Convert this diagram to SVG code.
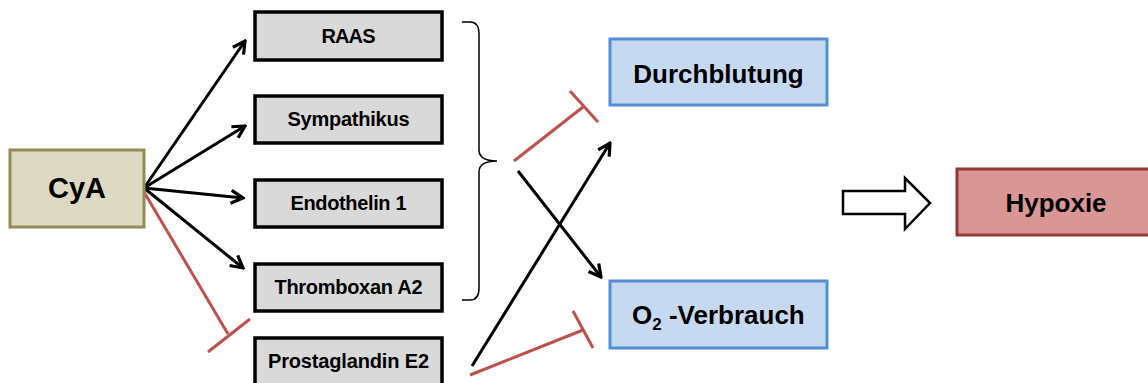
<svg xmlns="http://www.w3.org/2000/svg" width="1148" height="383" viewBox="0 0 1148 383">
  <defs>
    <style>
      text { font-family: "Liberation Sans", Arial, sans-serif; font-weight: bold; fill: #000; }
      .factor rect { fill: #d9d9d9; stroke: #000; stroke-width: 3.5; }
      .factor text { font-size: 20px; text-anchor: middle; }
      .target rect { fill: #c6d9f1; stroke: #558ed5; stroke-width: 3; }
      .target text { font-size: 26px; }
      .act { fill: none; stroke: #000; stroke-width: 3; marker-end: url(#open-arrow); }
      .inh { fill: none; stroke: #c0504d; stroke-width: 3; }
    </style>
    <marker id="open-arrow" markerUnits="userSpaceOnUse" viewBox="0 0 16 16" refX="14" refY="8" markerWidth="16" markerHeight="16" orient="auto">
      <path d="M2,1.5 L14,8 L2,14.5" fill="none" stroke="#000" stroke-width="3.2" stroke-linejoin="miter"/>
    </marker>
  </defs>

  <rect width="1148" height="383" fill="#fff"/>

  <!-- connectors -->
  <g id="connectors">
    <!-- CyA activates -->
    <line class="act" x1="144" y1="188" x2="245" y2="41"/>
    <line class="act" x1="144" y1="188" x2="245" y2="126"/>
    <line class="act" x1="144" y1="188" x2="243" y2="198"/>
    <line class="act" x1="144" y1="188" x2="243" y2="268"/>
    <!-- CyA inhibits prostaglandin E2 -->
    <line class="inh" x1="144" y1="192" x2="228" y2="334"/>
    <line class="inh" x1="208" y1="352" x2="250" y2="319"/>
    <!-- grouping brace -->
    <path d="M462,22 L470,22 Q479,22 479,34 L479,150 Q479,161 497,161 Q479,161 479,172 L479,288 Q479,300 470,300 L462,300" fill="none" stroke="#000" stroke-width="1.5"/>
    <!-- vasoconstrictors: less perfusion, more O2 consumption -->
    <line class="inh" x1="514" y1="161" x2="583" y2="107"/>
    <line class="inh" x1="570" y1="91" x2="598" y2="122"/>
    <line class="act" x1="518" y1="171" x2="601" y2="277"/>
    <!-- prostaglandin E2: more perfusion, less O2 consumption -->
    <line class="act" x1="472" y1="366" x2="610" y2="143"/>
    <line class="inh" x1="470" y1="375" x2="583" y2="330"/>
    <line class="inh" x1="573" y1="311" x2="593" y2="348"/>
    <!-- outline block arrow to hypoxia -->
    <path d="M843,191 L905,191 L905,178 L930,203 L905,229 L905,214 L843,214 Z" fill="#fff" stroke="#000" stroke-width="2.5" stroke-linejoin="miter"/>
  </g>

  <g id="cya">
    <rect x="10" y="150" width="134" height="77" fill="#ddd9c3" stroke="#948a54" stroke-width="3"/>
    <text x="77" y="198" font-size="29" text-anchor="middle">CyA</text>
  </g>

  <g id="raas" class="factor">
    <rect x="255" y="12" width="187" height="48"/>
    <text x="348.5" y="43" textLength="54" lengthAdjust="spacing">RAAS</text>
  </g>
  <g id="sympathikus" class="factor">
    <rect x="255" y="96" width="187" height="47"/>
    <text x="348.5" y="126" textLength="122" lengthAdjust="spacing">Sympathikus</text>
  </g>
  <g id="endothelin" class="factor">
    <rect x="255" y="180" width="187" height="47"/>
    <text x="348.5" y="210" textLength="116" lengthAdjust="spacing">Endothelin 1</text>
  </g>
  <g id="thromboxan" class="factor">
    <rect x="255" y="264" width="187" height="47"/>
    <text x="348.5" y="294" textLength="148" lengthAdjust="spacing">Thromboxan A2</text>
  </g>
  <g id="prostaglandin" class="factor">
    <rect x="255" y="338" width="187" height="48"/>
    <text x="348.5" y="368" textLength="161" lengthAdjust="spacing">Prostaglandin E2</text>
  </g>

  <g id="durchblutung" class="target">
    <rect x="610" y="39" width="217" height="66"/>
    <text x="718.5" y="83" text-anchor="middle">Durchblutung</text>
  </g>
  <g id="o2-verbrauch" class="target">
    <rect x="610" y="281" width="217" height="67"/>
    <text x="632" y="324">O<tspan font-size="17" dy="6">2</tspan><tspan dy="-6"> -Verbrauch</tspan></text>
  </g>

  <g id="hypoxie">
    <rect x="957" y="169" width="200" height="66" fill="#d99694" stroke="#953735" stroke-width="3"/>
    <text x="1056" y="212" font-size="26" text-anchor="middle">Hypoxie</text>
  </g>
</svg>
